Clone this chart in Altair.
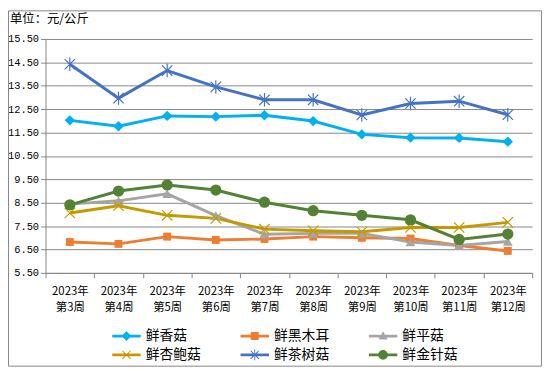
import altair as alt
import pandas as pd

weeks = ["2023年第3周", "2023年第4周", "2023年第5周", "2023年第6周", "2023年第7周",
         "2023年第8周", "2023年第9周", "2023年第10周", "2023年第11周", "2023年第12周"]
series_names = ["鲜香菇", "鲜黑木耳", "鲜平菇", "鲜杏鲍菇", "鲜茶树菇", "鲜金针菇"]
colors = ["#00B0F0", "#ED7D31", "#A5A5A5", "#C49A00", "#4472C4", "#548235"]

xianggu = [12.02, 11.77, 12.21, 12.18, 12.24, 11.99, 11.42, 11.28, 11.27, 11.11]
heimuer = [6.82, 6.74, 7.05, 6.91, 6.95, 7.05, 7.00, 6.97, 6.67, 6.44]
pinggu = [8.44, 8.58, 8.88, 7.95, 7.15, 7.19, 7.19, 6.82, 6.67, 6.84]
xingbaogu = [8.06, 8.37, 7.96, 7.83, 7.37, 7.30, 7.26, 7.44, 7.44, 7.66]
chashugu = [14.42, 12.97, 14.15, 13.45, 12.90, 12.90, 12.25, 12.74, 12.84, 12.26]
jinzhengu = [8.41, 9.00, 9.26, 9.04, 8.52, 8.16, 7.96, 7.77, 6.93, 7.16]

y_ticks = [5.5, 6.5, 7.5, 8.5, 9.5, 10.5, 11.5, 12.5, 13.5, 14.5, 15.5]
unit_title = "单位：元/公斤"

rows = []
for name, vals in zip(series_names, [xianggu, heimuer, pinggu, xingbaogu, chashugu, jinzhengu]):
    for w, v in zip(weeks, vals):
        rows.append({"week": w, "series": name, "value": v})
df = pd.DataFrame(rows)

GRAY = "#868686"
CJK = "Noto Sans CJK SC"

x_enc = alt.X(
    "week:N", sort=weeks,
    scale=alt.Scale(type="band", domain=weeks, paddingInner=0, paddingOuter=0),
    axis=alt.Axis(title=None, labelAngle=0, labelExpr="[slice(datum.label,0,5), slice(datum.label,5)]",
                  labelFont=CJK, labelFontSize=11.5, labelLineHeight=16, labelColor="#000000",
                  tickBand="extent", tickSize=5, tickColor=GRAY, domainColor=GRAY,
                  labelPadding=8, grid=False),
)
y_enc = alt.Y(
    "value:Q",
    scale=alt.Scale(domain=[5.5, 15.5], nice=False, zero=False),
    axis=alt.Axis(title=None, values=y_ticks, format=".2f", labelFont="Liberation Mono",
                  labelFontSize=10.5, labelColor="#000000", tickSize=5, tickColor=GRAY,
                  domainColor=GRAY, gridColor=GRAY, gridWidth=1, labelPadding=2, grid=True),
)

def stroke_enc():
    return alt.Stroke("series:N", scale=alt.Scale(domain=series_names, range=colors), legend=None)

def fill_enc():
    return alt.Fill("series:N", scale=alt.Scale(domain=series_names, range=colors), legend=None)

lines = alt.Chart(df).mark_line(strokeWidth=3).encode(
    x=x_enc, y=y_enc, stroke=stroke_enc(), detail="series:N",
)

X_PATH = "M-1,-1L1,1M1,-1L-1,1"
AST_PATH = "M-1,-1L1,1M1,-1L-1,1M0,-1.3L0,1.3"
marker_specs = {
    "鲜香菇": dict(shape="diamond", size=110, filled=True),
    "鲜黑木耳": dict(shape="square", size=64, filled=True),
    "鲜平菇": dict(shape="triangle-up", size=100, filled=True),
    "鲜杏鲍菇": dict(shape=X_PATH, size=110, filled=False, strokeWidth=1.2),
    "鲜茶树菇": dict(shape=AST_PATH, size=110, filled=False, strokeWidth=1.2),
    "鲜金针菇": dict(shape="circle", size=130, filled=True),
}
marker_layers = []
for name in series_names:
    spec = marker_specs[name]
    base = alt.Chart(df).transform_filter(alt.datum.series == name).mark_point(opacity=1, **spec)
    if spec["filled"]:
        layer = base.encode(x=x_enc, y=y_enc, fill=fill_enc())
    else:
        layer = base.encode(x=x_enc, y=y_enc, stroke=stroke_enc())
    marker_layers.append(layer)

LINE = "M-1.6,-0.15L1.6,-0.15L1.6,0.15L-1.6,0.15Z"
XB = "M-0.5,-0.42L-0.42,-0.5L0.5,0.42L0.42,0.5Z M-0.42,0.5L-0.5,0.42L0.42,-0.5L0.5,-0.42Z"
legend_paths = [
    LINE + " M0,-0.55L0.55,0L0,0.55L-0.55,0Z",
    LINE + " M-0.45,-0.45L0.45,-0.45L0.45,0.45L-0.45,0.45Z",
    LINE + " M0,-0.55L0.5,0.4L-0.5,0.4Z",
    LINE + " " + XB,
    LINE + " " + XB + " M-0.05,-0.6L0.05,-0.6L0.05,0.6L-0.05,0.6Z",
    LINE + " M-0.55,0A0.55,0.55 0 1,1 0.55,0A0.55,0.55 0 1,1 -0.55,0Z",
]
legend_props = dict(
    title=None, orient="none", legendX=73, legendY=292, direction="horizontal", columns=3,
    labelFont=CJK, labelFontSize=14, labelColor="#000000", symbolSize=324,
    labelOffset=10.5, columnPadding=39, rowPadding=3, symbolStrokeWidth=0, symbolOpacity=1,
)
legend_layer = alt.Chart(df).mark_point(opacity=0.001, filled=True, size=324).encode(
    x=x_enc, y=y_enc,
    color=alt.Color("series:N", scale=alt.Scale(domain=series_names, range=colors),
                    legend=alt.Legend(**legend_props)),
    shape=alt.Shape("series:N", scale=alt.Scale(domain=series_names, range=legend_paths),
                    legend=alt.Legend(**legend_props)),
)

border = alt.Chart(alt.Data(values=[{}])).mark_rect(fill=None, stroke=GRAY, strokeWidth=1).encode(
    x=alt.value(-37.5), x2=alt.value(502.5), y=alt.value(-28.5), y2=alt.value(331.5)
)
title_text = alt.Chart(alt.Data(values=[{}])).mark_text(
    align="left", baseline="middle", font=CJK, fontSize=12.5, color="#000000"
).encode(x=alt.value(-36), y=alt.value(-20), text=alt.value(unit_title))

chart = alt.layer(legend_layer, lines, *marker_layers, border, title_text).properties(
    width=493, height=237,
    padding={"left": 38, "top": 29, "right": 10, "bottom": 95},
    autosize=alt.AutoSizeParams(type="none"),
).configure_view(stroke=None)

chart.save("out.html", embed_options={"renderer": "svg", "actions": False})
